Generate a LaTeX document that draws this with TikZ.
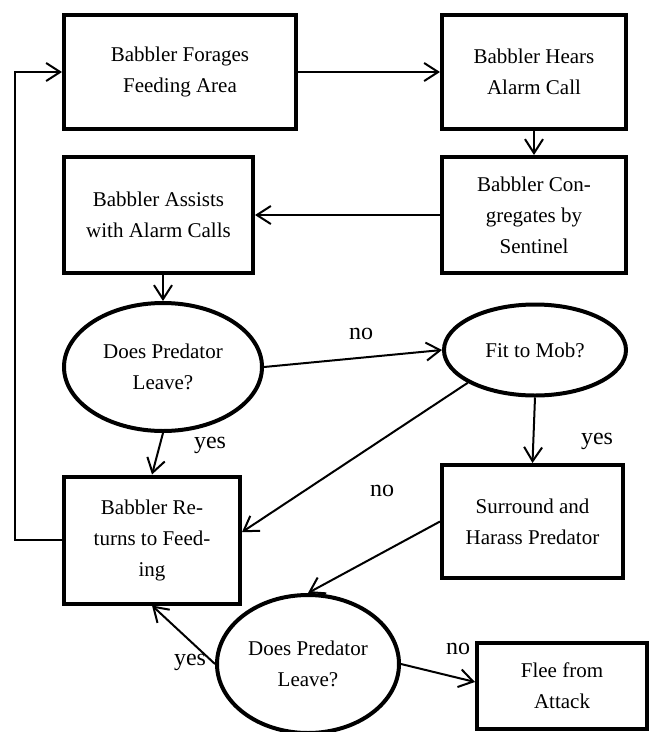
\documentclass[tikz,border=0pt]{standalone}
\usepackage{fontspec}
\setmainfont{Liberation Serif}
\usetikzlibrary{arrows.meta,shapes.geometric}
\begin{document}
\begin{tikzpicture}[x=1pt,y=-1pt,
  box/.style={draw,line width=4pt,rectangle,align=center,inner sep=0pt,font=\fontsize{21}{31}\selectfont},
  oval/.style={draw,line width=4pt,ellipse,align=center,inner sep=0pt,font=\fontsize{21}{31}\selectfont},
  conn/.style={line width=2pt,-{Straight Barb[length=14pt,width=18pt]}},
  lbl/.style={font=\fontsize{24}{28}\selectfont,inner sep=0pt}]
\useasboundingbox (0,0) rectangle (652,732);
\clip (0,0) rectangle (652,732);

\node[box,minimum width=232pt,minimum height=114pt] (b1) at (180,72) {Babbler Forages\\Feeding Area};
\node[box,minimum width=184pt,minimum height=114pt] (b2) at (534,72) {Babbler Hears\\Alarm Call};
\node[box,minimum width=184pt,minimum height=116pt] (b3) at (534,215) {Babbler Con-\\gregates by\\Sentinel};
\node[box,minimum width=189pt,minimum height=116pt] (b4) at (158.5,215) {Babbler Assists\\with Alarm Calls};
\node[oval,minimum width=198pt,minimum height=128pt] (e1) at (163,367) {Does Predator\\Leave?};
\node[oval,minimum width=182pt,minimum height=91pt] (e2) at (535,350) {Fit to Mob?};
\node[box,minimum width=176pt,minimum height=127pt] (b5) at (152,540) {Babbler Re-\\turns to Feed-\\ing};
\node[box,minimum width=181pt,minimum height=113pt] (b6) at (532.5,521.5) {Surround and\\Harass Predator};
\node[oval,minimum width=182pt,minimum height=138pt] (e3) at (308,664) {Does Predator\\Leave?};
\node[box,minimum width=170pt,minimum height=86pt] (b7) at (562,686) {Flee from\\Attack};

\coordinate (lp) at (15,0);

\draw[conn] (b1.east) -- (b2.west);
\draw[conn] (b2.south) -- (b3.north);
\draw[conn] (b3.west) -- (b4.east);
\draw[conn] (b4.south -| e1.north) -- (e1.north);
\draw[conn] (e1.east) -- (e2.west);
\draw[conn] (e1.south) -- (b5.north);
\draw[conn] (e2.south) -- (b6.north);
\draw[conn] (e2.206) -- (b5.5);
\draw[conn] (b6.west) -- (e3.north);
\draw[conn] (e3.west) -- (b5.south);
\draw[conn] (e3.east) -- ([yshift=4pt]b7.west);
\draw[conn] (b5.west) -- (b5.west -| lp) |- (b1.west);

\node[lbl] (l1) at (361,334) {no};
\node[lbl] (l2) at (210,445) {yes};
\node[lbl] (l3) at (382,491) {no};
\node[lbl] (l4) at (597,441) {yes};
\node[lbl] (l5) at (190,662) {yes};
\node[lbl] (l6) at (458,649) {no};
\end{tikzpicture}
\end{document}
